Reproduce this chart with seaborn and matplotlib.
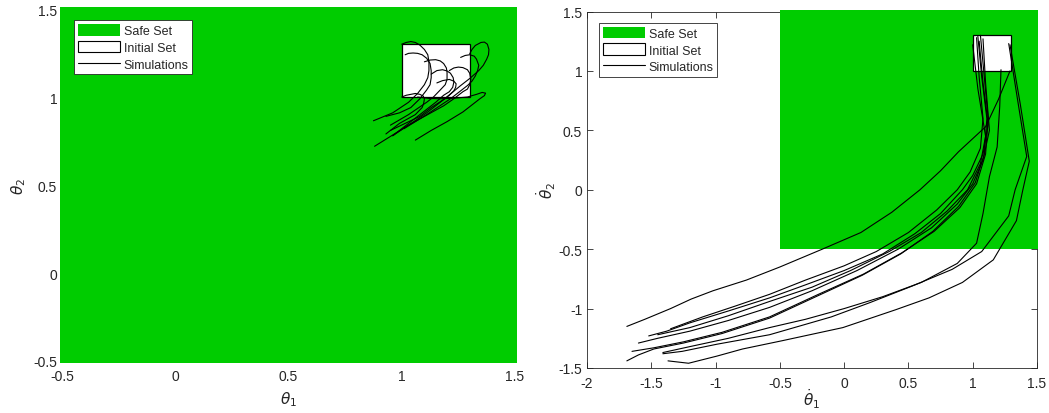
import numpy as np
import pandas as pd
import seaborn as sns
import matplotlib.pyplot as plt
from matplotlib.patches import Rectangle, Patch
from matplotlib.lines import Line2D

SAFE_GREEN = '#00cc00'

# Left panel: simulated angles (theta1, theta2), one list per run
theta1_sims = [
    [1.0, 1.02, 1.04, 1.06, 1.08, 1.10, 1.115, 1.12, 1.12, 1.115, 1.10, 1.07, 1.03, 0.96, 0.875],
    [1.015, 1.03, 1.05, 1.07, 1.09, 1.11, 1.125, 1.13, 1.13, 1.125, 1.11, 1.08, 1.04, 0.99, 0.93],
    [1.10, 1.125, 1.15, 1.17, 1.185, 1.197, 1.20, 1.20, 1.192, 1.17, 1.14, 1.11, 1.03, 0.95],
    [1.13, 1.155, 1.18, 1.20, 1.215, 1.227, 1.23, 1.225, 1.21, 1.185, 1.15, 1.11, 1.04, 0.96],
    [1.21, 1.23, 1.25, 1.27, 1.29, 1.30, 1.305, 1.30, 1.29, 1.27, 1.23, 1.185, 1.03, 0.88],
    [1.26, 1.28, 1.30, 1.32, 1.33, 1.34, 1.335, 1.325, 1.31, 1.29, 1.255, 1.215, 1.11, 1.01],
    [1.30, 1.31, 1.325, 1.35, 1.365, 1.378, 1.385, 1.383, 1.375, 1.36, 1.34, 1.30, 1.26, 1.18, 1.11, 1.03, 0.96],
    [1.07, 1.12, 1.17, 1.23, 1.29, 1.33, 1.355, 1.37, 1.365, 1.345, 1.31, 1.27, 1.20, 1.13, 1.06],
    [1.0, 1.02, 1.04, 1.06, 1.08, 1.095, 1.10, 1.097, 1.09, 1.06, 0.99, 0.93],
    [1.155, 1.18, 1.21, 1.23, 1.24, 1.238, 1.23, 1.21, 1.19, 1.13, 1.08, 0.95],
]
theta2_sims = [
    [1.30, 1.31, 1.315, 1.31, 1.295, 1.27, 1.24, 1.20, 1.15, 1.11, 1.07, 1.02, 0.97, 0.91, 0.865],
    [1.24, 1.248, 1.25, 1.248, 1.24, 1.22, 1.19, 1.15, 1.11, 1.07, 1.04, 0.99, 0.94, 0.91, 0.89],
    [1.20, 1.21, 1.212, 1.205, 1.19, 1.165, 1.14, 1.10, 1.07, 1.04, 1.00, 0.97, 0.90, 0.84],
    [1.13, 1.15, 1.155, 1.148, 1.135, 1.11, 1.085, 1.055, 1.03, 1.01, 0.97, 0.93, 0.86, 0.78],
    [1.15, 1.165, 1.17, 1.167, 1.155, 1.135, 1.10, 1.07, 1.045, 1.03, 0.99, 0.95, 0.84, 0.72],
    [1.225, 1.236, 1.24, 1.232, 1.215, 1.18, 1.15, 1.12, 1.09, 1.065, 1.03, 0.99, 0.90, 0.82],
    [1.245, 1.27, 1.293, 1.31, 1.312, 1.30, 1.27, 1.24, 1.215, 1.18, 1.15, 1.105, 1.065, 0.98, 0.91, 0.84, 0.78],
    [1.0, 0.992, 0.99, 0.993, 1.0, 1.015, 1.026, 1.022, 1.008, 0.99, 0.955, 0.915, 0.86, 0.81, 0.755],
    [1.0, 1.01, 1.015, 1.02, 1.015, 1.005, 0.99, 0.965, 0.94, 0.90, 0.85, 0.79],
    [1.08, 1.093, 1.10, 1.09, 1.075, 1.055, 1.035, 1.01, 0.99, 0.94, 0.89, 0.81],
]

# Right panel: simulated angular velocities (theta1 dot, theta2 dot)
dtheta1_sims = [
    [1.29, 1.20, 1.10, 0.89, 0.75, 0.59, 0.37, 0.13, -0.17, -0.50, -0.76, -1.02, -1.19, -1.35, -1.55, -1.69],
    [1.03, 1.05, 1.08, 1.06, 0.98, 0.88, 0.72, 0.5, 0.25, 0.0, -0.3, -0.58, -0.85, -1.1, -1.35],
    [1.05, 1.08, 1.12, 1.08, 1.0, 0.92, 0.75, 0.55, 0.3, 0.0, -0.3, -0.58, -0.9, -1.2, -1.38, -1.52],
    [1.0, 1.04, 1.1, 1.06, 0.96, 0.8, 0.6, 0.35, 0.05, -0.25, -0.58, -0.9, -1.2, -1.45],
    [1.08, 1.1, 1.13, 1.08, 1.0, 0.88, 0.68, 0.42, 0.1, -0.25, -0.58, -0.9, -1.2, -1.45, -1.60],
    [1.06, 1.09, 1.12, 1.1, 1.03, 0.9, 0.7, 0.45, 0.15, -0.2, -0.58, -0.95, -1.25, -1.48, -1.65],
    [1.04, 1.07, 1.11, 1.09, 1.02, 0.89, 0.69, 0.44, 0.14, -0.2, -0.58, -0.95, -1.25, -1.48, -1.6, -1.69],
    [1.22, 1.21, 1.19, 1.13, 1.08, 1.03, 0.88, 0.6, 0.3, 0.0, -0.3, -0.58, -0.9, -1.2, -1.41],
    [1.28, 1.35, 1.42, 1.33, 1.28, 1.07, 0.84, 0.53, 0.2, -0.1, -0.58, -0.99, -1.26, -1.41],
    [1.29, 1.37, 1.44, 1.39, 1.34, 1.16, 0.92, 0.66, 0.40, -0.01, -0.48, -0.79, -0.99, -1.21, -1.37],
]
dtheta2_sims = [
    [1.0, 0.76, 0.53, 0.32, 0.16, 0.0, -0.19, -0.36, -0.50, -0.65, -0.76, -0.85, -0.92, -1.0, -1.09, -1.15],
    [1.28, 0.95, 0.6, 0.35, 0.15, 0.0, -0.17, -0.36, -0.52, -0.64, -0.76, -0.88, -0.98, -1.07, -1.17],
    [1.25, 0.9, 0.55, 0.3, 0.12, 0.0, -0.2, -0.37, -0.54, -0.68, -0.8, -0.91, -1.02, -1.12, -1.19, -1.23],
    [1.22, 0.85, 0.45, 0.22, 0.0, -0.18, -0.36, -0.52, -0.68, -0.82, -0.94, -1.06, -1.16, -1.22],
    [1.27, 0.9, 0.5, 0.25, 0.05, -0.12, -0.32, -0.5, -0.68, -0.85, -0.99, -1.1, -1.19, -1.25, -1.29],
    [1.3, 0.95, 0.6, 0.3, 0.05, -0.15, -0.35, -0.53, -0.71, -0.88, -1.07, -1.2, -1.28, -1.33, -1.36],
    [1.29, 0.95, 0.6, 0.3, 0.06, -0.14, -0.35, -0.54, -0.72, -0.89, -1.08, -1.21, -1.29, -1.34, -1.39, -1.44],
    [1.01, 0.7, 0.36, 0.11, -0.2, -0.45, -0.62, -0.78, -0.9, -1.0, -1.09, -1.16, -1.25, -1.32, -1.37],
    [1.23, 0.75, 0.28, 0.0, -0.22, -0.52, -0.67, -0.81, -0.95, -1.07, -1.22, -1.3, -1.36, -1.38],
    [1.22, 0.72, 0.24, 0.0, -0.26, -0.59, -0.78, -0.91, -1.01, -1.16, -1.27, -1.34, -1.40, -1.46, -1.44],
]

# sets: (x0, y0, width, height); the safe sets run a hair past the axes edge
safe_left = (-0.51, -0.51, 2.02, 2.02)
safe_right = (-0.5, -0.5, 2.01, 2.01)
init_set = (1.0, 1.0, 0.3, 0.3)


def sims_frame(xs, ys):
    rows = []
    for i, (x, y) in enumerate(zip(xs, ys)):
        for k, (a, b) in enumerate(zip(x, y)):
            rows.append({'sim': i, 'step': k, 'x': a, 'y': b})
    return pd.DataFrame(rows)


def draw_panel(ax, df, safe, xlim, ylim, xlabel, ylabel, xpad, ypad):
    ax.add_patch(Rectangle(safe[:2], safe[2], safe[3], facecolor=SAFE_GREEN, edgecolor='none',
                           zorder=3, clip_on=False))
    ax.add_patch(Rectangle(init_set[:2], init_set[2], init_set[3], facecolor='white',
                           edgecolor='black', lw=0.9, zorder=3.5))
    sns.lineplot(data=df, x='x', y='y', units='sim', estimator=None, sort=False,
                 color='black', linewidth=0.8, ax=ax, zorder=4, legend=False)
    ax.set_xlim(*xlim)
    ax.set_ylim(*ylim)
    ax.set_xticks(np.arange(xlim[0], xlim[1] + 0.01, 0.5))
    ax.set_yticks(np.arange(ylim[0], ylim[1] + 0.01, 0.5))
    ax.xaxis.set_major_formatter(plt.FormatStrFormatter('%g'))
    ax.yaxis.set_major_formatter(plt.FormatStrFormatter('%g'))
    ax.tick_params(direction='in', bottom=True, left=True, top=True, right=True, length=4,
                   width=0.6, color='#262626', labelcolor='#262626', labelsize=10)
    ax.tick_params(axis='x', pad=6)
    for s in ax.spines.values():
        s.set_color('#262626')
        s.set_linewidth(0.6)
        s.set_zorder(2)
    ax.set_xlabel(xlabel, fontsize=11, color='#262626', labelpad=xpad)
    ax.set_ylabel(ylabel, fontsize=11, color='#262626', labelpad=ypad)
    handles = [Patch(facecolor=SAFE_GREEN, edgecolor='none', label='Safe Set'),
               Patch(facecolor='white', edgecolor='black', lw=0.8, label='Initial Set'),
               Line2D([], [], color='black', lw=0.8, label='Simulations')]
    leg = ax.legend(handles=handles, loc='upper left', bbox_to_anchor=(0.027, 0.968),
                    borderaxespad=0, fontsize=9, fancybox=False, framealpha=1,
                    edgecolor='#262626', borderpad=0.3, labelspacing=0.3,
                    handlelength=3.4, handleheight=1.05, handletextpad=0.25)
    leg.get_frame().set_linewidth(0.6)
    leg.set_zorder(6)


sns.set_style('white')
plt.rcParams['font.family'] = ['Liberation Sans', 'DejaVu Sans']
plt.rcParams['axes.unicode_minus'] = False
plt.rcParams['mathtext.fontset'] = 'dejavusans'

fig = plt.figure(figsize=(10.49, 4.14), dpi=100)
ax1 = fig.add_axes([62 / 1049, 1 - 362 / 414, 453 / 1049, 352 / 414])
ax2 = fig.add_axes([587 / 1049, 1 - 369 / 414, 450 / 1049, 356.5 / 414])

draw_panel(ax1, sims_frame(theta1_sims, theta2_sims), safe_left, (-0.5, 1.5), (-0.5, 1.5),
           r'$\theta_1$', r'$\theta_2$', 4, 4)
draw_panel(ax2, sims_frame(dtheta1_sims, dtheta2_sims), safe_right, (-2, 1.5), (-1.5, 1.5),
           r'$\dot{\theta}_1$', r'$\dot{\theta}_2$', -2.5, 0)

fig.savefig('out.png', dpi=100)
